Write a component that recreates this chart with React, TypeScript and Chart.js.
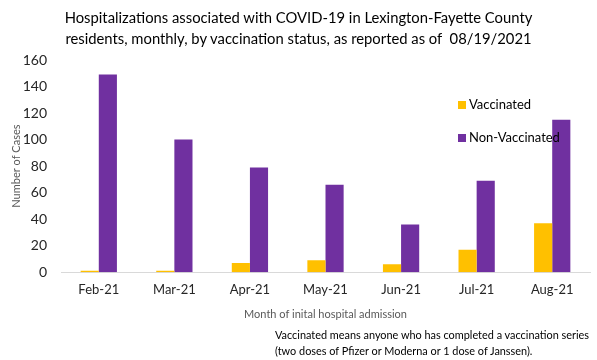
import React, { useEffect, useRef } from "react";
import { Chart, registerables } from "chart.js";

Chart.register(...registerables);

const months = ["Feb-21", "Mar-21", "Apr-21", "May-21", "Jun-21", "Jul-21", "Aug-21"];
const vaccinated = [1, 1, 7, 9, 6, 17, 37];
const nonVaccinated = [149, 100, 79, 66, 36, 69, 115];
const seriesNames = ["Vaccinated", "Non-Vaccinated"];
const seriesColors = ["#FFC000", "#7030A0"];
const yMax = 160;
const yStep = 20;
const titleLines = [
  "Hospitalizations associated with COVID-19 in Lexington-Fayette County",
  "residents, monthly, by vaccination status, as reported as of\u00a0 08/19/2021",
];
const xAxisTitle = "Month of inital hospital admission";
const yAxisTitle = "Number of Cases";
const footnoteLines = [
  "Vaccinated means anyone who has completed a vaccination series",
  "(two doses of Pfizer or Moderna or 1 dose of Janssen).",
];

const FONT = "Lato, 'Open Sans', sans-serif";

const legendPlugin = {
  id: "customLegend",
  afterDraw(chart: any) {
    const ctx = chart.ctx;
    ctx.save();
    ctx.font = `13px ${FONT}`;
    ctx.textBaseline = "middle";
    ctx.textAlign = "left";
    const x = 458;
    const ys = [105, 138];
    chart.data.datasets.forEach((ds: any, i: number) => {
      ctx.fillStyle = ds.backgroundColor;
      ctx.fillRect(x, ys[i] - 4, 8, 8);
      ctx.fillStyle = "#000000";
      ctx.fillText(ds.label, x + 11, ys[i]);
    });
    ctx.restore();
  },
};

export default function App() {
  const canvasRef = useRef<HTMLCanvasElement | null>(null);

  useEffect(() => {
    document.body.style.margin = "0";
    const canvas = canvasRef.current;
    if (!canvas) return;
    const chart = new Chart(canvas, {
      type: "bar",
      data: {
        labels: months,
        datasets: [
          {
            label: seriesNames[0],
            data: vaccinated,
            backgroundColor: seriesColors[0],
            barPercentage: 1,
            categoryPercentage: 0.48,
          },
          {
            label: seriesNames[1],
            data: nonVaccinated,
            backgroundColor: seriesColors[1],
            barPercentage: 1,
            categoryPercentage: 0.48,
          },
        ],
      },
      options: {
        animation: false,
        responsive: false,
        maintainAspectRatio: false,
        layout: { padding: { left: 0, right: 7, top: 60, bottom: 39 } },
        plugins: {
          legend: { display: false },
          title: { display: false },
          tooltip: { enabled: false },
        },
        scales: {
          x: {
            grid: { display: false, drawTicks: false },
            border: { display: true, color: "#D9D9D9", width: 1 },
            ticks: {
              color: "#262626",
              font: { family: FONT, size: 13 },
              padding: 10,
              maxRotation: 0,
            },
            title: {
              display: true,
              text: xAxisTitle,
              color: "#595959",
              font: { family: FONT, size: 11 },
              padding: { top: 0, bottom: 0 },
            },
          },
          y: {
            min: 0,
            max: yMax,
            grid: { display: false, drawTicks: false },
            border: { display: false },
            ticks: {
              stepSize: yStep,
              color: "#262626",
              font: { family: FONT, size: 14 },
              padding: 14,
            },
            title: {
              display: true,
              text: yAxisTitle,
              color: "#595959",
              font: { family: FONT, size: 11 },
              padding: { top: 10, bottom: 0 },
            },
            afterFit(scale: any) {
              scale.width = 61;
            },
          },
        },
      },
      plugins: [legendPlugin],
    });
    return () => chart.destroy();
  }, []);

  return (
    <div style={{ position: "relative", width: 597, height: 360, background: "#fff", fontFamily: FONT }}>
      <canvas ref={canvasRef} width={597} height={360} style={{ position: "absolute", left: 0, top: 0 }} />
      <div
        style={{
          position: "absolute",
          left: 0,
          top: 7,
          width: 597,
          textAlign: "center",
          fontSize: 14.8,
          lineHeight: "21px",
          color: "#000",
          whiteSpace: "nowrap",
        }}
      >
        {titleLines.map((l, i) => (
          <div key={i}>{l}</div>
        ))}
      </div>
      <div
        style={{
          position: "absolute",
          left: 275,
          top: 327,
          fontSize: 10.9,
          lineHeight: "16px",
          color: "#000",
          whiteSpace: "nowrap",
        }}
      >
        {footnoteLines.map((l, i) => (
          <div key={i}>{l}</div>
        ))}
      </div>
    </div>
  );
}
